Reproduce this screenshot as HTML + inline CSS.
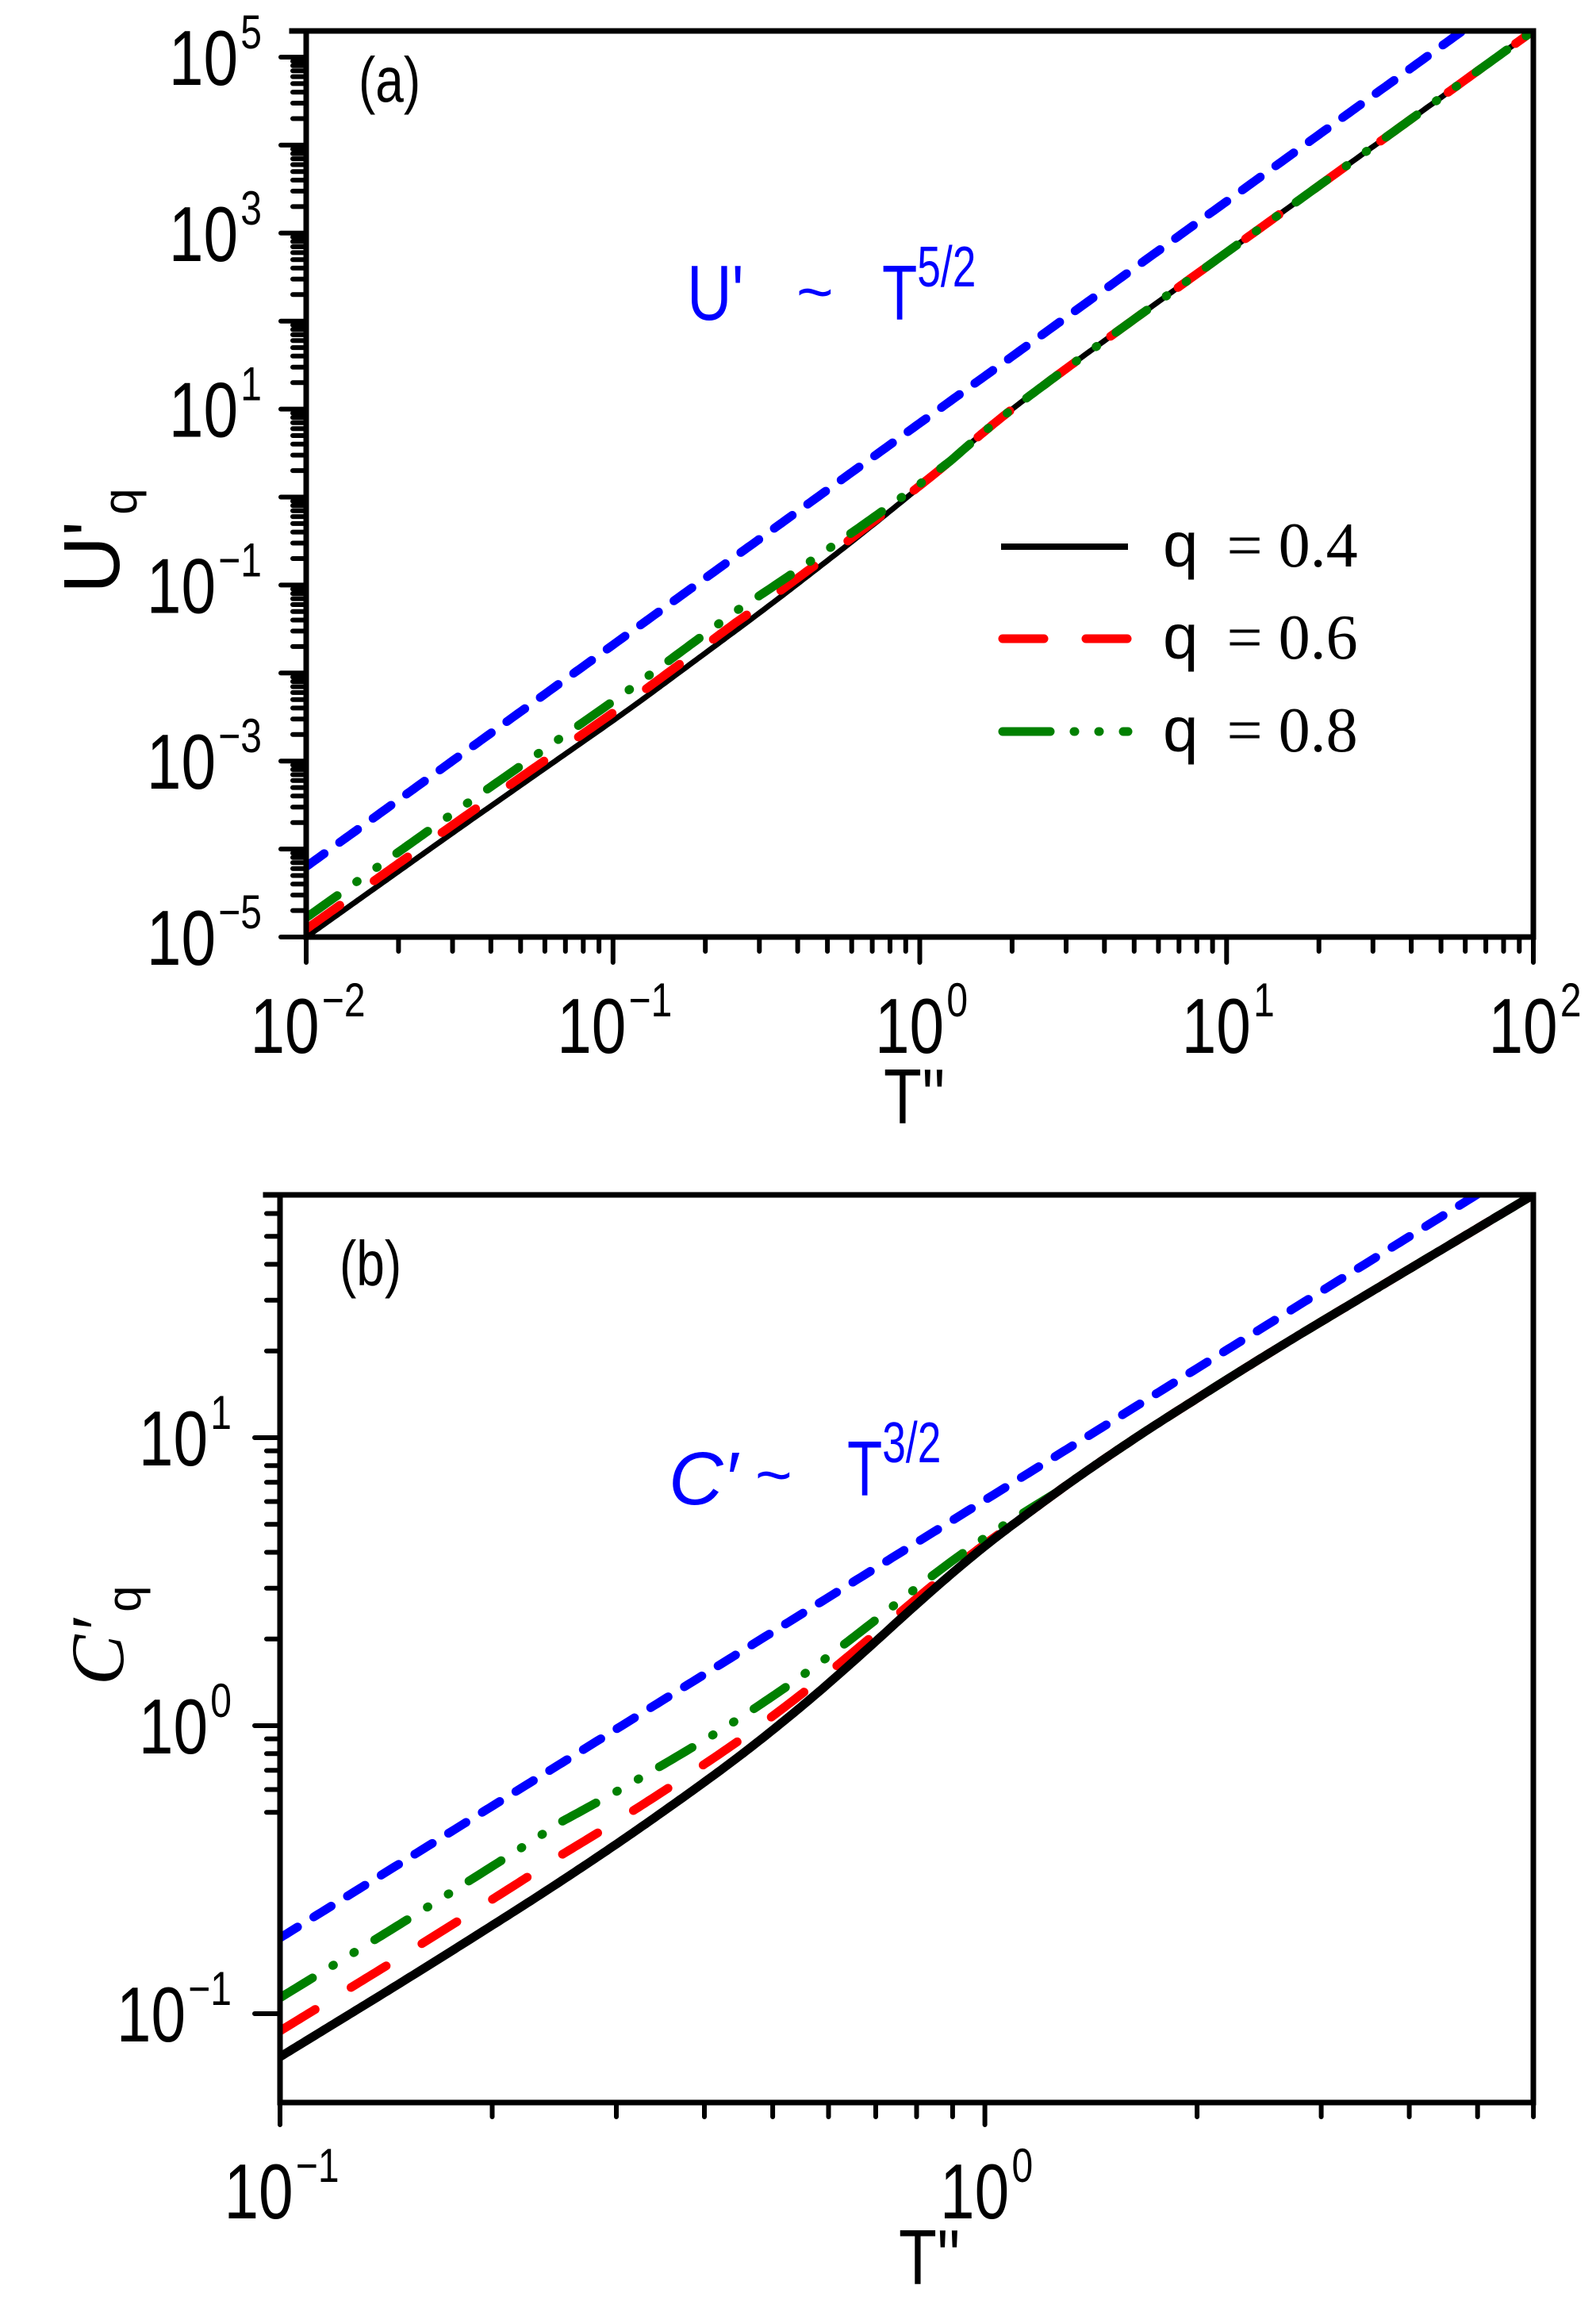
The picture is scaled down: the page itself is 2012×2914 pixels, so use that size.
<!DOCTYPE html>
<html><head><meta charset="utf-8"><style>
html,body{margin:0;padding:0;background:#fff;}
svg{display:block;}
text{font-family:"Liberation Sans",sans-serif;}
</style></head><body>
<svg id="s" width="2012" height="2914" viewBox="0 0 2012 2914" xmlns="http://www.w3.org/2000/svg">
<defs>
<clipPath id="ca"><rect x="386" y="39" width="1547" height="1142"/></clipPath>
<clipPath id="cb"><rect x="353" y="1506" width="1580" height="1144"/></clipPath>
</defs>
<g id="ticks" stroke="#000" stroke-width="6" stroke-linecap="round" fill="none"></g>
<g clip-path="url(#ca)" fill="none" stroke-linecap="round" stroke-linejoin="round">
<path id="ak" stroke="#000" stroke-width="7"/>
<path id="ar" stroke="#ff0000" stroke-width="11" stroke-dasharray="52 53"/>
<path id="ag" stroke="#008000" stroke-width="11" stroke-dasharray="48 30 1 30 1 30"/>
<path id="ab" stroke="#0000ff" stroke-width="11" stroke-dasharray="28 24"/>
</g>
<g clip-path="url(#cb)" fill="none" stroke-linecap="round" stroke-linejoin="round">
<path id="br" stroke="#ff0000" stroke-width="11" stroke-dasharray="52 53"/>
<path id="bg" stroke="#008000" stroke-width="11" stroke-dasharray="48 30 1 30 1 30"/>
<path id="bk" stroke="#000" stroke-width="11"/>
<path id="bb" stroke="#0000ff" stroke-width="11" stroke-dasharray="26 24"/>
</g>
<g fill="none" stroke="#000" stroke-width="7" stroke-linecap="square">
<rect x="386" y="39" width="1547" height="1142"/>
<rect x="353" y="1506" width="1580" height="1144"/>
<line x1="368" y1="39" x2="386" y2="39"/>
<line x1="335" y1="1506" x2="353" y2="1506"/>
</g>
<g stroke-linecap="round" fill="none">
<line x1="1262" y1="689" x2="1422" y2="689" stroke="#000" stroke-width="8" stroke-linecap="butt"/>
<line x1="1264" y1="805" x2="1422" y2="805" stroke="#ff0000" stroke-width="11" stroke-dasharray="52 53"/>
<line x1="1264" y1="922" x2="1422" y2="922" stroke="#008000" stroke-width="11" stroke-dasharray="60 30 1 30 1 30"/>
</g>
<g font-size="80">
<text x="1466" y="714"><tspan>q</tspan><tspan font-family="Liberation Serif" dx="36">= 0.4</tspan></text>
<text x="1466" y="830"><tspan>q</tspan><tspan font-family="Liberation Serif" dx="36">= 0.6</tspan></text>
<text x="1466" y="947"><tspan>q</tspan><tspan font-family="Liberation Serif" dx="36">= 0.8</tspan></text>
</g>
<text transform="translate(452,128) scale(0.8,1)" font-size="80">(a)</text>
<text transform="translate(428,1620) scale(0.8,1)" font-size="80">(b)</text>
<g fill="#0000ff">
<text transform="translate(866,403) scale(0.8,1)" font-size="98">U'</text>
<text x="1004" y="395" font-size="80">~</text>
<text transform="translate(1112,403) scale(0.74,1)" font-size="98">T<tspan font-size="72" dy="-42">5/2</tspan></text>
<text x="843" y="1896" font-size="95" font-family="Liberation Serif" font-style="italic">C′</text>
<text x="952" y="1886" font-size="80">~</text>
<text transform="translate(1068,1885) scale(0.74,1)" font-size="98">T<tspan font-size="72" dy="-42">3/2</tspan></text>
</g>
<text transform="translate(1114,1416) scale(0.8,1)" font-size="98">T''</text>
<text transform="translate(1133,2879) scale(0.8,1)" font-size="98">T''</text>
<text transform="translate(150,748) rotate(-90)" font-size="100">U'<tspan font-size="60" dx="8" dy="22">q</tspan></text>
<text transform="translate(155,2124) rotate(-90)" font-size="95"><tspan font-family="Liberation Serif" font-style="italic">C′</tspan><tspan font-size="60" dx="8" dy="22">q</tspan></text>
<g id="labels" font-size="98"></g>
</svg>
<script>
(function(){
var NS="http://www.w3.org/2000/svg";
function lin(pts,x){for(var i=0;i<pts.length-1;i++){if(x<=pts[i+1][0]){var a=pts[i],b=pts[i+1];return a[1]+(b[1]-a[1])*(x-a[0])/(b[0]-a[0]);}}var n=pts.length;var a=pts[n-2],b=pts[n-1];return a[1]+(b[1]-a[1])*(x-a[0])/(b[0]-a[0]);}
function smooth(pts,w){return function(x){var s=0,n=21;for(var i=0;i<n;i++){s+=lin(pts,x-w+2*w*i/(n-1));}return s/n;};}
function mk(f,X,Y,x0,x1){var d="";for(var i=0;i<=400;i++){var lt=x0+(x1-x0)*i/400;d+=(i?"L":"M")+X(lt).toFixed(1)+" "+Y(f(lt)).toFixed(1);}return d;}
var XA=function(l){return 386+(l+2)*386.75},YA=function(l){return 1181-(l+5)*110.9};
var ka=[[-2,-5],[-1.5,-3.76],[-0.95,-2.42],[-0.5,-1.26],[-0.2,-0.45],[0.048,0.25],[0.25,0.87],[0.5,1.52],[2,5.3]];
var fk=smooth(ka,0.1);
function offA(a){return function(l){return fk(l)+(l<-0.6?a:(l<0.1?a*(0.1-l)/0.7:0));}}
document.getElementById("ak").setAttribute("d",mk(fk,XA,YA,-2,2));
document.getElementById("ar").setAttribute("d",mk(offA(0.09),XA,YA,-2,2));
document.getElementById("ag").setAttribute("d",mk(offA(0.22),XA,YA,-2,2));
document.getElementById("ab").setAttribute("d",mk(function(l){return -4.2+2.52*(l+2)},XA,YA,-2,2));
var XB=function(l){return 353+(l+1)*888.6},YB=function(l){return 2175-363*l};
var kb=[[-1,-1.15],[-0.8,-0.85],[-0.6,-0.54],[-0.45,-0.29],[-0.3,-0.02],[-0.15,0.30],[-0.05,0.53],[0.05,0.72],[0.183,0.953],[0.4,1.29],[0.778,1.843]];
var gk=smooth(kb,0.08);
function offB(a,e){return function(l){return gk(l)+(l<-0.6?a:(l<e?a*(e-l)/(e+0.6):0));}}
document.getElementById("bk").setAttribute("d",mk(gk,XB,YB,-1,0.8));
document.getElementById("br").setAttribute("d",mk(offB(0.09,0.05),XB,YB,-1,0.8));
document.getElementById("bg").setAttribute("d",mk(offB(0.205,0.1),XB,YB,-1,0.8));
document.getElementById("bb").setAttribute("d",mk(function(l){return -0.737+1.52*(l+1)},XB,YB,-1,0.8));
var T=document.getElementById("ticks"),d="";
function ln(x1,y1,x2,y2){d+="M"+x1.toFixed(1)+" "+y1.toFixed(1)+"L"+x2.toFixed(1)+" "+y2.toFixed(1);}
var k,m,p;
for(k=-2;k<=2;k++){ln(XA(k),1181,XA(k),1213);if(k<2)for(m=2;m<=9;m++){p=XA(k+Math.log10(m));ln(p,1181,p,1199);}}
for(k=-5;k<=5;k++){ln(354,YA(k),386,YA(k));if(k<5)for(m=2;m<=9;m++){p=YA(k+Math.log10(m));ln(369,p,386,p);}}
for(m=2;m<=9;m++){p=YA(5+Math.log10(m));if(p>=39)ln(369,p,386,p);}
ln(XB(-1),2650,XB(-1),2678);ln(XB(0),2650,XB(0),2678);
for(m=2;m<=9;m++){p=XB(-1+Math.log10(m));ln(p,2650,p,2668);}
for(m=2;m<=6;m++){p=XB(Math.log10(m));ln(p,2650,p,2668);}
for(k=-1;k<=1;k++)ln(321,YB(k),353,YB(k));
[[-2,5],[-2,6],[-2,7],[-2,8],[-2,9],[-1,2],[-1,3],[-1,4],[-1,5],[-1,6],[-1,7],[-1,8],[-1,9],[0,2],[0,3],[0,4],[0,5],[0,6],[0,7],[0,8],[0,9],[1,2],[1,3],[1,4],[1,5],[1,6],[1,7]].forEach(function(q){p=YB(q[0]+1+Math.log10(q[1]));if(p>=1506&&p<=2651)ln(336,p,353,p);});
var pa=document.createElementNS(NS,"path");pa.setAttribute("d",d);T.appendChild(pa);
var L=document.getElementById("labels");
function lab(x,y,e,anchor){var t=document.createElementNS(NS,"text");t.setAttribute("transform","translate("+x+","+y+") scale(0.8,1)");t.setAttribute("text-anchor",anchor);t.appendChild(document.createTextNode("10"));var s=document.createElementNS(NS,"tspan");s.setAttribute("font-size","60");s.setAttribute("dy","-46");s.setAttribute("dx","4");s.textContent=e;t.appendChild(s);L.appendChild(t);}
for(k=-2;k<=2;k++)lab(XA(k)+2,1327,(k<0?"\u2212":"")+Math.abs(k),"middle");
for(k=-5;k<=5;k+=2)lab(330,YA(k)+35,(k<0?"\u2212":"")+Math.abs(k),"end");
lab(XB(-1)+2,2796,"\u22121","middle");lab(XB(0)+2,2796,"0","middle");
for(k=-1;k<=1;k++)lab(292,YB(k)+35,(k<0?"\u2212":"")+Math.abs(k),"end");
})();
</script>
</body></html>
